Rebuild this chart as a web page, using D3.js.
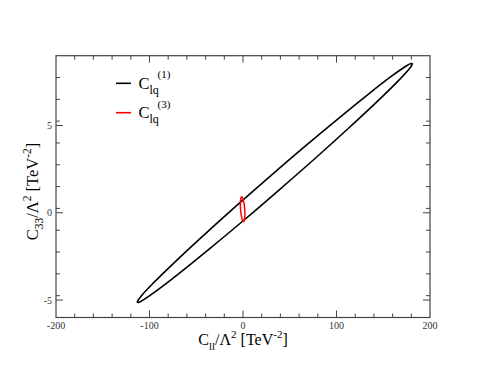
<!DOCTYPE html>
<html>
<head>
<meta charset="utf-8">
<script src="https://cdn.jsdelivr.net/npm/d3@7"></script>
<style>
  html, body { margin: 0; padding: 0; background: #fff; }
  svg { display: block; }
  text { font-family: "Liberation Serif", "Times New Roman", serif; }
</style>
</head>
<body>
<svg id="chart" width="498" height="374"></svg>
<script>
// ---- data ----
const xMajorTicks = [-200, -100, 0, 100, 200];
const yMajorTicks = [-5, 0, 5];
const xTickLabels = ["-200", "-100", "0", "100", "200"];
const yTickLabels = ["-5", "0", "5"];

// C_lq^(1) contour (black)
const blackX = [181, 180.5, 177.5, 164.2, 142.0, 112.5, 77.6, 39.7, 1.5, -34.6, -65.9, -90.5, -106.5, -111.0,
                -113, -112.5, -109.5, -96.2, -74.0, -44.5, -9.6, 28.3, 66.5, 102.6, 133.9, 158.5, 174.5, 179.0];
const blackY = [8.55, 8.45, 8.23, 7.46, 6.30, 4.83, 3.14, 1.36, -0.40, -2.01, -3.37, -4.39, -4.99, -5.12,
                -5.13, -5.03, -4.81, -4.04, -2.88, -1.41, 0.28, 2.06, 3.82, 5.43, 6.79, 7.81, 8.41, 8.54];

// C_lq^(3) contour (red)
const redX = [-1.4, -0.17, 1.0, 1.8, 2.0, 1.57, 0.6, -0.63, -1.8, -2.6, -2.8, -2.37];
const redY = [0.92, 0.82, 0.56, 0.2, -0.16, -0.42, -0.52, -0.42, -0.16, 0.2, 0.56, 0.82];

const seriesNames = ["(1)", "(3)"];
const seriesColors = ["#000000", "#ff0000"];

// ---- layout ----
const svg = d3.select("#chart");
const L = 56, R = 430, T = 55.7, B = 317.5;
const x = d3.scaleLinear().domain([-200, 200]).range([L, R]);
const y = d3.scaleLinear().domain([-6, 9]).range([B, T]);

const frameColor = "#444";

// minor ticks
const xMinor = d3.range(-200, 200.001, 20).filter(v => !xMajorTicks.includes(v));
const yMinorTicks = d3.range(-4.8, 7.2).map(k => k * 1.25).filter(v => v > -6 && v < 9 && !yMajorTicks.includes(v));

const g = svg.append("g");

function tickLines(vals, len, axis) {
  vals.forEach(v => {
    if (axis === "x") {
      const px = x(v);
      g.append("line").attr("x1", px).attr("x2", px).attr("y1", B).attr("y2", B - len)
        .attr("stroke", frameColor).attr("stroke-width", 1);
      g.append("line").attr("x1", px).attr("x2", px).attr("y1", T).attr("y2", T + len)
        .attr("stroke", frameColor).attr("stroke-width", 1);
    } else {
      const py = y(v);
      g.append("line").attr("x1", L).attr("x2", L + len).attr("y1", py).attr("y2", py)
        .attr("stroke", frameColor).attr("stroke-width", 1);
      g.append("line").attr("x1", R).attr("x2", R - len).attr("y1", py).attr("y2", py)
        .attr("stroke", frameColor).attr("stroke-width", 1);
    }
  });
}
tickLines(xMajorTicks.filter(v => v > -200 && v < 200), 7, "x");
tickLines(xMinor, 4, "x");
tickLines(yMajorTicks, 7, "y");
tickLines(yMinorTicks, 4, "y");

// frame
g.append("rect").attr("x", L).attr("y", T).attr("width", R - L).attr("height", B - T)
  .attr("fill", "none").attr("stroke", frameColor).attr("stroke-width", 1.2);

// tick labels
xMajorTicks.forEach((v, i) => {
  g.append("text").attr("x", x(v)).attr("y", B + 11).attr("text-anchor", "middle")
    .attr("font-size", 10).attr("fill", "#333").text(xTickLabels[i]);
});
yMajorTicks.forEach((v, i) => {
  g.append("text").attr("x", L - 4).attr("y", y(v) + 3.5).attr("text-anchor", "end")
    .attr("font-size", 10).attr("fill", "#333").text(yTickLabels[i]);
});

// contours
const line = d3.line().x(d => x(d[0])).y(d => y(d[1])).curve(d3.curveCatmullRomClosed.alpha(0.5));
const blackPts = blackX.map((v, i) => [v, blackY[i]]);
const redPts = redX.map((v, i) => [v, redY[i]]);
g.append("path").attr("d", line(blackPts)).attr("fill", "none")
  .attr("stroke", seriesColors[0]).attr("stroke-width", 1.6);
g.append("path").attr("d", line(redPts)).attr("fill", "none")
  .attr("stroke", seriesColors[1]).attr("stroke-width", 1.5);

// legend
seriesNames.forEach((name, i) => {
  const ly = 83.3 + i * 29.4;
  g.append("line").attr("x1", 116).attr("x2", 131).attr("y1", ly).attr("y2", ly)
    .attr("stroke", seriesColors[i]).attr("stroke-width", 1.6);
  const t = g.append("text").attr("x", 138.5).attr("y", ly + 5.2).attr("fill", "#000");
  t.append("tspan").attr("font-size", 16.5).text("C");
  t.append("tspan").attr("font-size", 12).attr("dy", 5.5).text("lq");
  g.append("text").attr("x", 157.5).attr("y", ly - 5).attr("font-size", 11).attr("fill", "#000").text(name);
});

// x axis label
const xl = g.append("text").attr("x", (L + R) / 2).attr("y", 344.5).attr("text-anchor", "middle").attr("fill", "#000");
xl.append("tspan").attr("font-size", 16).text("C");
xl.append("tspan").attr("font-size", 11).attr("dy", 5).text("ll");
xl.append("tspan").attr("font-size", 16).attr("dy", -5).text("/Λ");
xl.append("tspan").attr("font-size", 11).attr("dy", -6.5).text("2");
xl.append("tspan").attr("font-size", 16).attr("dy", 6.5).text(" [TeV");
xl.append("tspan").attr("font-size", 11).attr("dy", -6.5).text("-2");
xl.append("tspan").attr("font-size", 16).attr("dy", 6.5).text("]");

// y axis label
const yl = g.append("text").attr("transform", "translate(38,191.5) rotate(-90)")
  .attr("text-anchor", "middle").attr("fill", "#000");
yl.append("tspan").attr("font-size", 16.5).text("C");
yl.append("tspan").attr("font-size", 11.5).attr("dy", 5).text("33");
yl.append("tspan").attr("font-size", 16.5).attr("dy", -5).text("/Λ");
yl.append("tspan").attr("font-size", 11.5).attr("dy", -7).text("2");
yl.append("tspan").attr("font-size", 16.5).attr("dy", 7).text(" [TeV");
yl.append("tspan").attr("font-size", 11.5).attr("dy", -7).text("-2");
yl.append("tspan").attr("font-size", 16.5).attr("dy", 7).text("]");
</script>
</body>
</html>
